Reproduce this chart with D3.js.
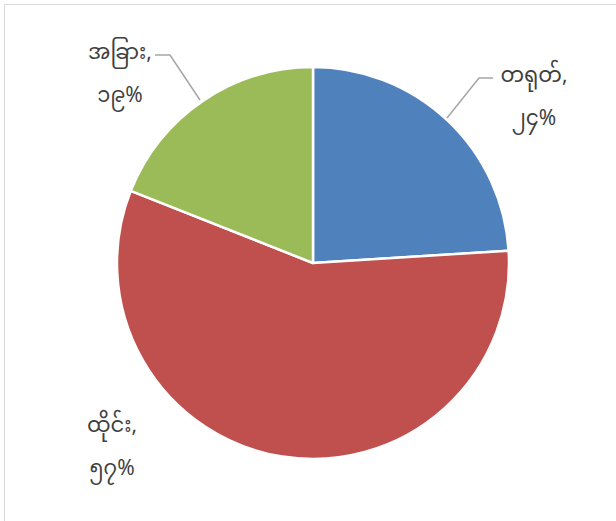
<!DOCTYPE html>
<html>
<head>
<meta charset="utf-8">
<script src="https://cdn.jsdelivr.net/npm/d3@7"></script>
<style>
  html, body { margin: 0; padding: 0; background: #fff; }
  svg { display: block; }
</style>
</head>
<body>
<svg id="chart" width="616" height="521"></svg>
<script>
// Share of trade by partner (Burmese labels)
const categories = ["တရုတ်", "ထိုင်း", "အခြား"];
const shares = [24, 57, 19];
const percentLabels = ["၂၄%", "၅၇%", "၁၉%"];
const colors = ["#4F81BD", "#C0504D", "#9BBB59"];

const svg = d3.select("#chart");
const W = 616, H = 521;

// chart-area frame (runs off the right and bottom edge)
svg.append("rect")
  .attr("x", 4.5).attr("y", 4.5)
  .attr("width", W + 10).attr("height", H + 10)
  .attr("fill", "#fff").attr("stroke", "#d9d9d9").attr("stroke-width", 1);

const cx = 313, cy = 263, r = 196;
const g = svg.append("g").attr("transform", `translate(${cx},${cy})`);

const pie = d3.pie().sort(null).value(d => d.v);
const data = categories.map((c, i) => ({ name: c, v: shares[i], pct: percentLabels[i], color: colors[i] }));
const arcs = pie(data);
const arc = d3.arc().innerRadius(0).outerRadius(r);

g.selectAll("path.slice").data(arcs).enter().append("path")
  .attr("class", "slice")
  .attr("d", arc)
  .attr("fill", d => d.data.color)
  .attr("stroke", "#fff")
  .attr("stroke-width", 2.5)
  .attr("stroke-linejoin", "round");

// label placement relative to the centre, with optional leader lines
const labelPos = [
  { x: 221, y: -181, leader: [[134, -145], [166, -185], [180, -185]] },
  { x: -201, y: 169, leader: null },
  { x: -193, y: -204, leader: [[-113, -163], [-143, -208], [-158, -208]] }
];
const lineGap = 43;

const font = "'Noto Sans Myanmar', 'Padauk', 'Myanmar Text', 'Noto Sans', sans-serif";

arcs.forEach((a, i) => {
  const p = labelPos[i];
  const t = g.append("text")
    .attr("text-anchor", "middle")
    .attr("font-family", font)
    .attr("font-size", 21)
    .attr("fill", "#404040");
  t.append("tspan").attr("x", p.x).attr("y", p.y).text(a.data.name + ",");
  t.append("tspan").attr("x", p.x).attr("y", p.y + lineGap).text(a.data.pct);

  if (p.leader) {
    g.append("polyline")
      .attr("points", p.leader.map(q => q.join(",")).join(" "))
      .attr("fill", "none")
      .attr("stroke", "#a6a6a6")
      .attr("stroke-width", 1.5);
  }
});
</script>
</body>
</html>
